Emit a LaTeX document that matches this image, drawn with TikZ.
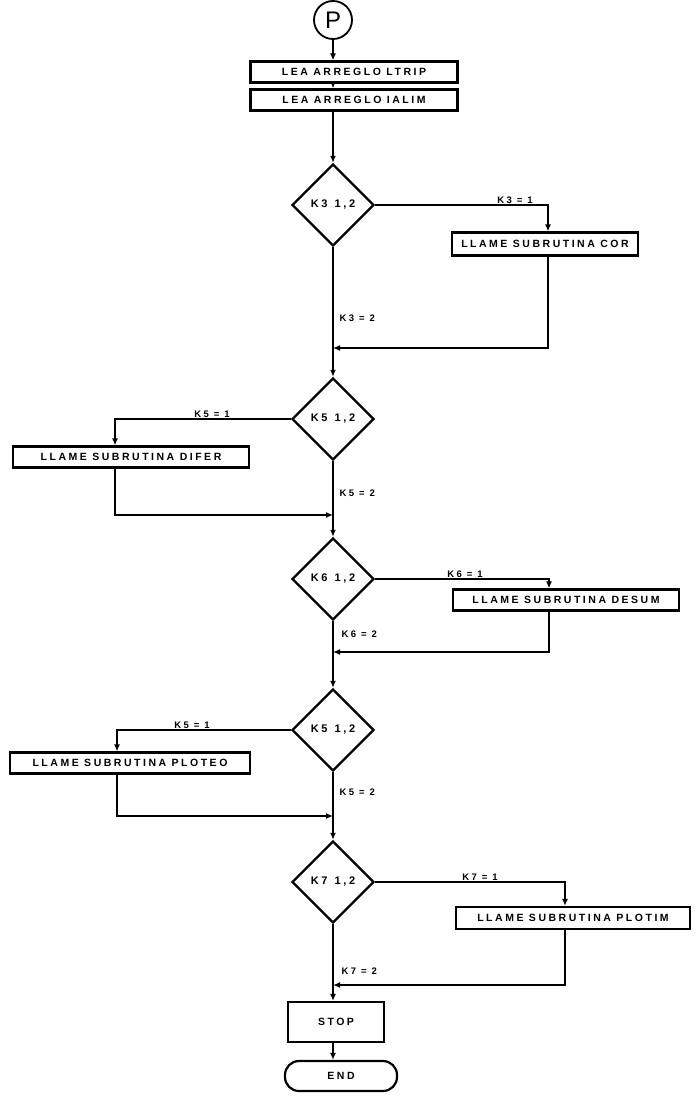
\documentclass[tikz,border=0pt]{standalone}
\usepackage{fontspec}
\setsansfont{Liberation Sans}[LetterSpace=24]
\usetikzlibrary{shapes.geometric, arrows.meta}

\begin{document}
\begin{tikzpicture}[
    x=1pt, y=-1pt,
    line/.style={draw, line width=1.6pt},
    box/.style={draw, line width=2.2pt, inner sep=1pt, minimum height=21pt,
      font=\sffamily\bfseries\fontsize{10.5}{10.5}\selectfont},
    test/.style={draw, diamond, aspect=1, line width=2.4pt, minimum size=82pt,
      inner sep=0pt, font=\sffamily\bfseries\fontsize{11}{11}\selectfont},
    lab/.style={inner sep=1.5pt, font=\sffamily\bfseries\fontsize{9.5}{9.5}\selectfont},
    >={Latex[length=7pt,width=6pt]}
  ]
    \useasboundingbox (0,0) rectangle (696,1105);
    % inicio
    \node[draw, circle, line width=1.8pt, minimum size=38pt, inner sep=0pt,
      font=\sffamily\fontsize{24}{24}\selectfont] (p) at (333,20) {P};
    \node[box, minimum width=207pt] (ltrip) at (354,72) {LEA ARREGLO LTRIP};
    \node[box, minimum width=207pt] (ialim) at (354,100) {LEA ARREGLO IALIM};
    \draw[line, ->] (p.south) -- (p.south |- ltrip.north);
    \draw[line, ->] (p.south |- ltrip.south) -- (p.south |- ialim.north);

    % K3
    \node[test] (k3) at (333,205) {K3\hspace{7pt}1,2};
    \draw[line, ->] (p.south |- ialim.south) -- (k3.north);
    \node[box, minimum width=186pt, minimum height=23pt] (cor) at (545,244) {LLAME SUBRUTINA COR};
    \draw[line, ->] (k3.east) -| ([xshift=3pt]cor.north);
    \node[lab, above] at (515,205) {K3 = 1};
    \coordinate (j3) at (333,348);
    \draw[line, ->] ([xshift=3pt]cor.south) |- (j3);
    \node[lab, right] at (338,318) {K3 = 2};

    % K5
    \node[test] (k5) at (333,419) {K5\hspace{7pt}1,2};
    \draw[line, ->] (k3.south) -- (k5.north);
    \node[box, minimum width=236pt] (difer) at (131,457) {LLAME SUBRUTINA DIFER};
    \draw[line, ->] (k5.west) -| ([xshift=-16pt]difer.north);
    \node[lab, above] at (212,419) {K5 = 1};
    \coordinate (j5) at (333,515);
    \draw[line, ->] ([xshift=-16pt]difer.south) |- (j5);
    \node[lab, right] at (338,493) {K5 = 2};

    % K6
    \node[test] (k6) at (333,579) {K6\hspace{7pt}1,2};
    \draw[line, ->] (k5.south) -- (k6.north);
    \node[box, minimum width=226pt] (desum) at (566,600) {LLAME SUBRUTINA DESUM};
    \draw[line, ->] (k6.east) -| ([xshift=-17pt]desum.north);
    \node[lab, above] at (465,579) {K6 = 1};
    \coordinate (j6) at (333,652);
    \draw[line, ->] ([xshift=-17pt]desum.south) |- (j6);
    \node[lab, right] at (340,634) {K6 = 2};

    % K5 (segunda)
    \node[test] (k8) at (333,730) {K5\hspace{7pt}1,2};
    \draw[line, ->] (k6.south) -- (k8.north);
    \node[box, minimum width=240pt] (ploteo) at (130,763) {LLAME SUBRUTINA PLOTEO};
    \draw[line, ->] (k8.west) -| ([xshift=-13pt]ploteo.north);
    \node[lab, above] at (192,730) {K5 = 1};
    \coordinate (j8) at (333,816);
    \draw[line, ->] ([xshift=-13pt]ploteo.south) |- (j8);
    \node[lab, right] at (338,792) {K5 = 2};

    % K7
    \node[test] (k7) at (333,882) {K7\hspace{7pt}1,2};
    \draw[line, ->] (k8.south) -- (k7.north);
    \node[box, minimum width=234pt, minimum height=22pt] (plotim) at (573,918) {LLAME SUBRUTINA PLOTIM};
    \draw[line, ->] (k7.east) -| ([xshift=-8pt]plotim.north);
    \node[lab, above] at (480,882) {K7 = 1};
    \coordinate (j7) at (333,985);
    \draw[line, ->] ([xshift=-8pt]plotim.south) |- (j7);
    \node[lab, right] at (340,971) {K7 = 2};

    % fin
    \node[box, minimum width=96pt, minimum height=40pt] (stop) at (336,1022) {STOP};
    \draw[line, ->] (k7.south) -- (k7.south |- stop.north);
    \node[box, rounded corners=14pt, minimum width=112pt, minimum height=30pt] (fin) at (341,1076) {END};
    \draw[line, ->] (k7.south |- stop.south) -- (k7.south |- fin.north);
  \end{tikzpicture}
\end{document}
